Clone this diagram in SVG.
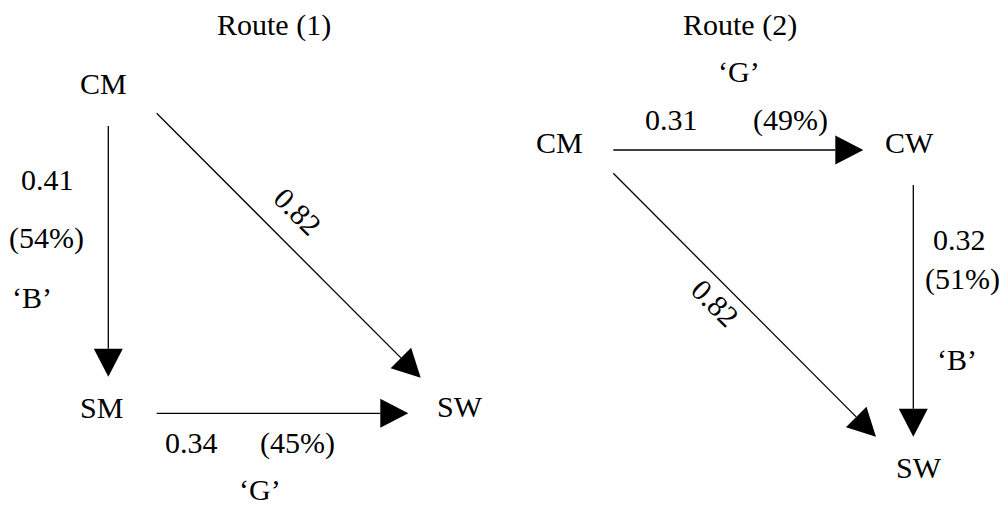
<svg xmlns="http://www.w3.org/2000/svg" width="1008" height="506" viewBox="0 0 1008 506">
<style>
text{font-family:"Liberation Serif","Times New Roman",serif;font-size:30px;fill:#000}
.c line{stroke:#000;stroke-width:1.3;fill:none;marker-end:url(#ah)}
</style>
<defs>
<marker id="ah" markerUnits="userSpaceOnUse" markerWidth="30" markerHeight="31" refX="0" refY="14.5" orient="auto" overflow="visible">
<path d="M0,0 L28,14.5 L0,29 z" fill="#000"/>
</marker>
</defs>
<rect width="1008" height="506" fill="#fff"/>
<text x="217" y="35">Route (1)</text>
<text x="683" y="35">Route (2)</text>
<g id="r1-cm"><text x="80" y="94">CM</text></g>
<g id="r1-sm"><text x="80" y="418">SM</text></g>
<g id="r1-sw"><text x="437" y="417">SW</text></g>
<g id="r2-cm"><text x="536" y="153">CM</text></g>
<g id="r2-cw"><text x="885" y="153">CW</text></g>
<g id="r2-sw"><text x="896" y="478">SW</text></g>
<g class="c" id="connectors">
<line x1="108.3" y1="126" x2="108.3" y2="348.7"/>
<line x1="156.7" y1="413.3" x2="380.3" y2="413.3"/>
<line x1="156.7" y1="113.3" x2="400.9" y2="357.9"/>
<line x1="613.3" y1="150" x2="835.3" y2="150"/>
<line x1="613.3" y1="173.3" x2="856.2" y2="416.9"/>
<line x1="913.3" y1="185" x2="913.3" y2="408.7"/>
</g>
<g id="labels">
<text x="21" y="190">0.41</text>
<text x="9" y="248">(54%)</text>
<text x="12" y="308">‘B’</text>
<text transform="translate(290.4,218.8) rotate(45)" text-anchor="middle">0.82</text>
<text x="165" y="453">0.34</text>
<text x="260" y="453">(45%)</text>
<text x="239" y="500">‘G’</text>
<text x="718" y="82">‘G’</text>
<text x="645" y="130">0.31</text>
<text x="753" y="130">(49%)</text>
<text transform="translate(707.9,310.4) rotate(45)" text-anchor="middle">0.82</text>
<text x="933" y="250">0.32</text>
<text x="925" y="289">(51%)</text>
<text x="937" y="370">‘B’</text>
</g>
</svg>
